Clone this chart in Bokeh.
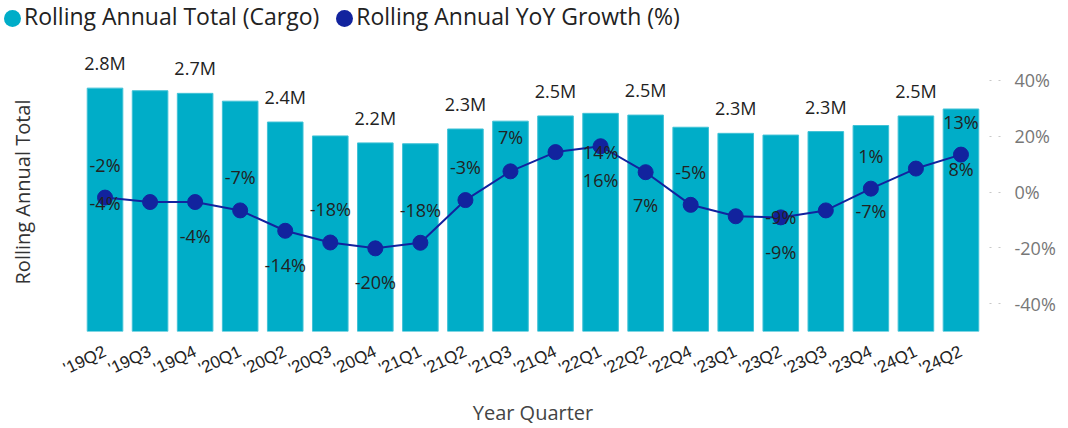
from bokeh.plotting import figure
from bokeh.layouts import column
from bokeh.models import (ColumnDataSource, FactorRange, Range1d, LinearAxis, FixedTicker,
                          PrintfTickFormatter, Div)
from bokeh.core.properties import value
from bokeh.embed import file_html
from bokeh.resources import INLINE

# ---------------- data ----------------
quarters = ["'19Q2", "'19Q3", "'19Q4", "'20Q1", "'20Q2", "'20Q3", "'20Q4", "'21Q1",
            "'21Q2", "'21Q3", "'21Q4", "'22Q1", "'22Q2", "'22Q4", "'23Q1", "'23Q2",
            "'23Q3", "'23Q4", "'24Q1", "'24Q2"]
totals = [2800000, 2770000, 2740000, 2650000, 2410000, 2250000, 2170000, 2160000,
          2330000, 2420000, 2480000, 2510000, 2490000, 2350000, 2280000, 2260000,
          2300000, 2370000, 2480000, 2560000]
yoy_pct = [-2.0, -3.6, -3.6, -6.6, -13.9, -18.1, -20.2, -18.2, -2.9, 7.4,
           14.3, 16.4, 7.1, -4.6, -8.7, -9.1, -6.6, 1.2, 8.4, 13.4]
series_names = ["Rolling Annual Total (Cargo)", "Rolling Annual YoY Growth (%)"]

# which bars carry a total label
total_label_idx = [0, 2, 4, 6, 8, 10, 12, 14, 16, 18]
# where each YoY label is drawn (category index) and its vertical shift (px, + = down)
pct_label_at = [0, 0, 2, 3, 4, 5, 6, 7, 8, 9, 11, 11, 12, 13, 15, 15, 17, 17, 19, 19]
pct_label_dy = [-33, 5, 34, -33, 34, -33, 34, -33, -33, -34, 6, 34, 33, -33, 0, 35, 22, -33, 14, -33]

BAR = "#00ADC8"
LINE = "#12239E"
FONT = "Open Sans"
LEG_H = 34

src = ColumnDataSource(dict(q=quarters, total=totals, yoy=yoy_pct))

p = figure(x_range=FactorRange(factors=quarters, range_padding=0),
           y_range=Range1d(0, 3210000),
           width=1068, height=428 - LEG_H, output_backend="svg", toolbar_location=None,
           min_border_left=82, min_border_right=85, min_border_top=52 - LEG_H,
           min_border_bottom=95)
p.extra_y_ranges = {"pct": Range1d(-50, 50)}
p.outline_line_color = None
p.grid.visible = False

p.vbar(x="q", top="total", width=0.79, source=src, fill_color=BAR, line_color="#40C2D6", line_width=1)
p.line(x="q", y="yoy", source=src, y_range_name="pct", line_color=LINE, line_width=2)
p.scatter(x="q", y="yoy", source=src, y_range_name="pct", size=15, color=LINE)

# total labels
tsrc = ColumnDataSource(dict(
    x=[quarters[i] for i in total_label_idx],
    y=[totals[i] for i in total_label_idx],
    t=["%.1fM" % (totals[i] / 1e6) for i in total_label_idx]))
p.text(x="x", y="y", text="t", source=tsrc, y_offset=-25, text_align="center",
       text_baseline="middle", text_font=value(FONT), text_font_size="18px", text_color="#222222")

# yoy labels
psrc = ColumnDataSource(dict(
    x=[quarters[i] for i in pct_label_at],
    y=[yoy_pct[i] for i in pct_label_at],
    t=["%d%%" % round(v) for v in yoy_pct],
    dy=pct_label_dy))
p.text(x="x", y="y", text="t", source=psrc, y_offset="dy", y_range_name="pct",
       text_align="center", text_baseline="middle", text_font=value(FONT),
       text_font_size="18px", text_color="#222222")

# left axis (title only)
yl = p.yaxis[0]
yl.ticker = FixedTicker(ticks=[])
yl.axis_label = "Rolling Annual Total"
yl.axis_line_color = None
yl.major_tick_line_color = None
yl.minor_tick_line_color = None
yl.axis_label_standoff = 47
yl.axis_label_text_font = FONT
yl.axis_label_text_font_size = "20px"
yl.axis_label_text_font_style = "normal"
yl.axis_label_text_color = "#333333"

# right axis
yr = LinearAxis(y_range_name="pct", ticker=FixedTicker(ticks=[-40, -20, 0, 20, 40]),
                formatter=PrintfTickFormatter(format="%d%%"))
yr.axis_line_color = None
yr.major_tick_line_color = "#C8C8C8"
yr.major_tick_line_dash = "2 7"
yr.major_tick_in = 0
yr.major_tick_out = 17
yr.minor_tick_line_color = None
yr.major_label_standoff = 14
yr.major_label_text_font = FONT
yr.major_label_text_font_size = "18px"
yr.major_label_text_color = "#777777"
p.add_layout(yr, "right")

# x axis
xa = p.xaxis[0]
xa.major_label_orientation = 0.44
xa.major_label_text_font = "Liberation Sans"
xa.major_label_text_font_size = "17px"
xa.major_label_text_color = "#222222"
xa.major_label_standoff = 13
xa.axis_line_color = None
xa.major_tick_line_color = None
xa.minor_tick_line_color = None
xa.axis_label = "Year Quarter"
xa.axis_label_text_font = FONT
xa.axis_label_text_font_size = "20px"
xa.axis_label_text_font_style = "normal"
xa.axis_label_text_color = "#444444"
xa.axis_label_standoff = 9

# legend (HTML row above the plot)
def dot(c, ml):
    return ('<span style="display:inline-block;width:17px;height:17px;border-radius:50%%;'
            'background:%s;margin:0 3px 0 %dpx;vertical-align:-2px;"></span>' % (c, ml))

legend_html = ('<div style="font-family:\'Open Sans\';font-size:23px;color:#222222;'
               'line-height:32px;padding:0;margin:0;white-space:nowrap;">'
               + dot(BAR, 4) + series_names[0]
               + dot(LINE, 17) + series_names[1] + '</div>')
leg = Div(text=legend_html, width=1068, height=LEG_H, margin=(0, 0, 0, 0))

layout = column(leg, p, spacing=0)

html = file_html(layout, INLINE)
html = html.replace("</head>", "<style>body{margin:0;}</style></head>", 1)
open("out.html", "w").write(html)
